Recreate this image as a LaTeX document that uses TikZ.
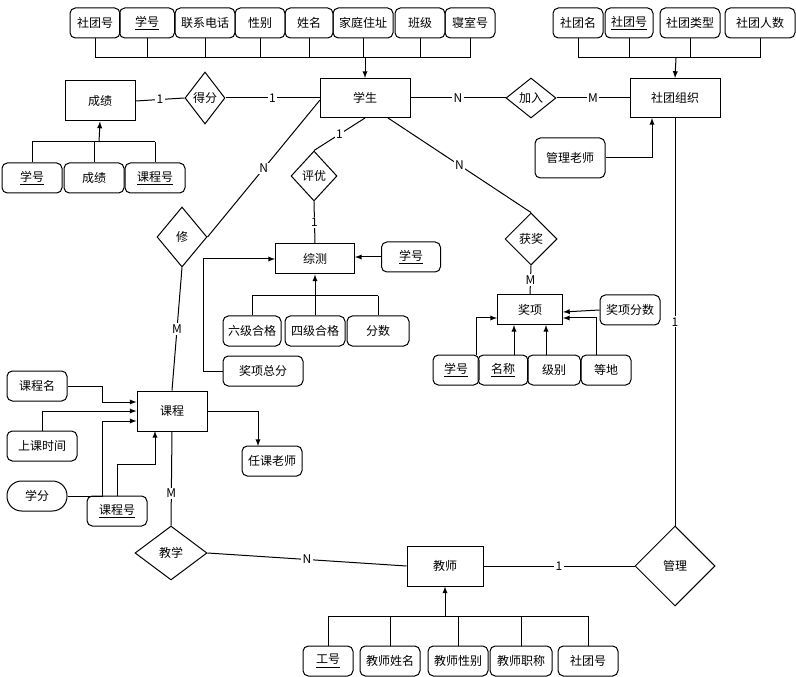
\documentclass[tikz,border=0pt]{standalone}
\usepackage{fontspec}
\setmainfont{Noto Sans CJK SC}
\usetikzlibrary{shapes.geometric}
\tikzset{every picture/.style={line width=0.75pt}}
\tikzset{
  ent/.style={draw,rectangle,minimum width=#1*0.75pt,minimum height=30pt,inner sep=0pt,font=\small},
  ent/.default=70,
  attr/.style={draw,rectangle,rounded corners=4pt,minimum width=#1*0.75pt,minimum height=22.5pt,inner sep=0pt,font=\small},
  attr/.default=60,
  rel/.style n args={2}{draw,diamond,minimum width=#1*0.75pt,minimum height=#2*0.75pt,inner sep=0pt,font=\small},
  card/.style={fill=white,inner sep=1pt,font=\small},
  arr/.style={-latex},
}
\newcommand{\ukey}[1]{\underline{#1}}
\begin{document}
\begin{tikzpicture}[x=0.75pt,y=0.75pt,yscale=-1,xscale=1]
\useasboundingbox (0,0) rectangle (796,677);

% entities
\node[ent=90,minimum height=29.25pt] (xs) at (365,98) {学生};
\node[ent=90,minimum height=29.25pt] (st) at (675,98) {社团组织};
\node[ent] (cj) at (100,101) {成绩};
\node[ent=79,minimum height=22.5pt] (zc) at (315,259) {综测};
\node[ent=65,minimum height=22.5pt] (jx) at (530,310) {奖项};
\node[ent] (kc) at (172,411) {课程};
\node[ent=76] (js) at (445,566) {教师};

% relations
\node[rel={50}{40}] (jr) at (531,98) {加入};
\node[rel={40}{52}] (df) at (205,98) {得分};
\node[rel={46}{50}] (py) at (314,176) {评优};
\node[rel={52}{52}] (hj) at (531,239) {获奖};
\node[rel={50}{60}] (xiu) at (182,237) {修};
\node[rel={72}{54}] (jiao) at (171,553) {教学};
\node[rel={80}{80}] (gl) at (675,566) {管理};

% student attributes
\node[attr=50] (a1) at (95,23) {社团号};
\node[attr=55] (a2) at (147,23) {\ukey{学号}};
\node[attr=60] (a3) at (205,23) {联系电话};
\node[attr=50] (a4) at (260,23) {性别};
\node[attr=48] (a5) at (309,23) {姓名};
\node[attr=60] (a6) at (363,23) {家庭住址};
\node[attr=50] (a7) at (420,23) {班级};
\node[attr=50] (a8) at (470,23) {寝室号};
\foreach \n in {a1,a2,a3,a4,a5,a6,a7,a8}
  \draw (\n.south) -- (\n.south |- 0,58);
\draw (a1.south |- 0,58) -- (a8.south |- 0,58);
\draw[arr] (365,58) -- (xs.north);

% club attributes
\node[attr=50] (b1) at (578,23) {社团名};
\node[attr=48] (b2) at (629,23) {\ukey{社团号}};
\node[attr=60] (b3) at (690,23) {社团类型};
\node[attr=70] (b4) at (760,23) {社团人数};
\foreach \n in {b1,b2,b3,b4}
  \draw (\n.south) -- (\n.south |- 0,58);
\draw (b1.south |- 0,58) -- (b4.south |- 0,58);
\draw[arr] (676,58) -- (st.north);
\node[attr=70,minimum height=30pt] (glls) at (570,158) {管理老师};
\draw[arr] (glls.east) -| (652,118);

% score attributes
\node[attr=60] (c1) at (32,178) {\ukey{学号}};
\node[attr=60] (c2) at (94,178) {成绩};
\node[attr=60] (c3) at (155,178) {\ukey{课程号}};
\foreach \n in {c1,c2,c3}
  \draw (\n.north) -- (\n.north |- 0,142);
\draw (c1.north |- 0,142) -- (c3.north |- 0,142);
\draw[arr] (99,142) -- (cj.south);

% evaluation attributes
\node[attr=59] (d1) at (411,257) {\ukey{学号}};
\draw[arr] (d1.west) -- (zc.east |- d1.west);
\node[attr=58] (d2) at (252,331) {六级合格};
\node[attr=60] (d3) at (315,331) {四级合格};
\node[attr=62] (d4) at (378,331) {分数};
\foreach \n in {d2,d3,d4}
  \draw (\n.north) -- (\n.north |- 0,296);
\draw (d2.north |- 0,296) -- (d4.north |- 0,296);
\draw[arr] (d3.north) -- (zc.south);
\node[attr=80] (d5) at (263,371) {奖项总分};
\draw[arr] (d5.west) -- (203,371) -- (203,259) -- (zc.west);

% award attributes
\node[attr=60] (e1) at (630,310) {奖项分数};
\draw[arr] (e1.west) -- (jx.east |- 0,312);
\node[attr=46] (e2) at (456,370) {\ukey{学号}};
\node[attr=50] (e3) at (503,370) {\ukey{名称}};
\node[attr=53] (e4) at (554,370) {级别};
\node[attr=50] (e5) at (606,370) {等地};
\draw[arr] (476,355) |- (jx.west |- 0,318);
\draw[arr] (514,355) -- (514,325);
\draw[arr] (546,355) -- (546,325);
\draw[arr] (596,355) |- (jx.east |- 0,318);

% course attributes
\node[attr=60] (f1) at (37,386) {课程名};
\node[attr=70] (f2) at (42,446) {上课时间};
\node[draw,rounded corners=11pt,minimum width=45pt,minimum height=22.5pt,inner sep=0pt,font=\small] (f3) at (37,496) {学分};
\node[attr=60] (f4) at (117,511) {\ukey{课程号}};
\draw[arr] (f1.east) -- (102,386) -- (102,402) -- (kc.west |- 0,402);
\draw[arr] (f2.north) |- (kc.west |- 0,411);
\draw[arr] (f3.east) -- (102,496) -- (102,421) -- (kc.west |- 0,421);
\draw[arr] (f4.north) |- (155,464) -- (155,431);
\node[attr=60] (f5) at (272,461) {任课老师};
\draw[arr] (kc.east) -| (258,446);

% teacher attributes
\node[attr=50] (g1) at (328,661) {\ukey{工号}};
\node[attr=60] (g2) at (390,661) {教师姓名};
\node[attr=60] (g3) at (458,661) {教师性别};
\node[attr=62] (g4) at (521,661) {教师职称};
\node[attr=60] (g5) at (588,661) {社团号};
\foreach \n in {g1,g2,g3,g4,g5}
  \draw (\n.north) -- (\n.north |- 0,616);
\draw (g1.north |- 0,616) -- (g5.north |- 0,616);
\draw[arr] (445,616) -- (js.south);

% relationships
\draw (xs.east) -- node[card] {N} (jr.west);
\draw (jr.east) -- node[card] {M} (st.west);
\draw (cj.east) -- node[card] {1} (df.west);
\draw (df.east) -- node[card] {1} (xs.west);
\draw (365,118) -- node[card] {1} (py.north);
\draw (py.south) -- node[card] {1} (zc.north);
\draw (388,118) -- node[card] {N} (hj.north);
\draw (hj.south) -- node[card] {M} (jx.north);
\draw (320,100) -- node[card] {N} (xiu.east);
\draw (xiu.south) -- node[card] {M} (kc.north);
\draw (kc.south) -- node[card,pos=0.66] {M} (jiao.north);
\draw (jiao.east) -- node[card] {N} (js.west);
\draw (js.east) -- node[card] {1} (gl.west);
\draw (st.south) -- node[card] {1} (gl.north);
\end{tikzpicture}
\end{document}
